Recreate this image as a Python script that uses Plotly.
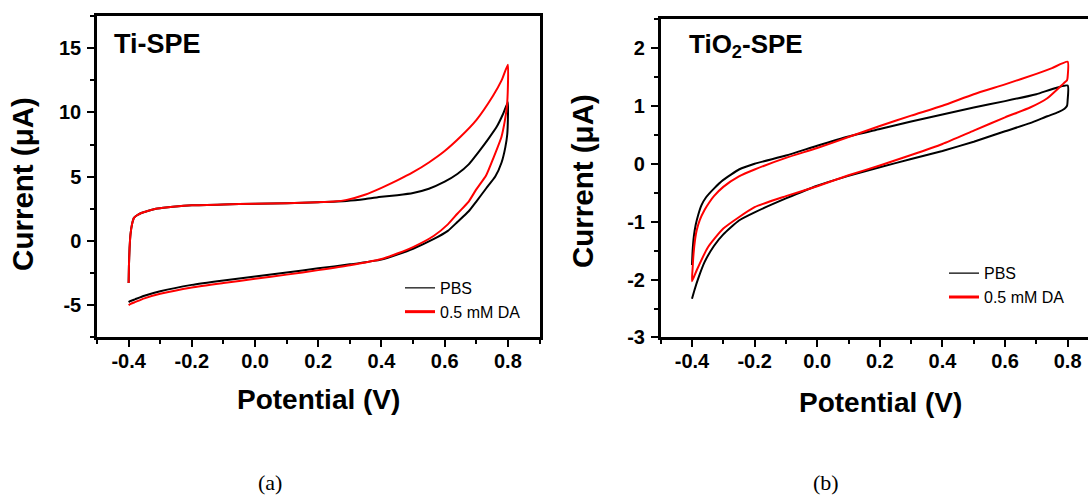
import plotly.graph_objects as go

# ---- Ti-SPE cyclic voltammograms (potential in V, current in uA) ----
ti_pbs_E = [-0.400, -0.399, -0.397, -0.394, -0.389, -0.383, -0.372, -0.360, -0.340, -0.317,
            -0.290, -0.260, -0.200, -0.100, 0.000, 0.100, 0.200, 0.290, 0.350, 0.400,
            0.450, 0.500, 0.550, 0.600, 0.640, 0.676, 0.710, 0.740, 0.765, 0.785, 0.800,
            0.800, 0.798, 0.792, 0.780, 0.760, 0.731, 0.700, 0.676, 0.640, 0.610, 0.566,
            0.500, 0.450, 0.400, 0.300, 0.200, 0.100, 0.000, -0.100, -0.200, -0.300,
            -0.350, -0.380, -0.395, -0.400]
ti_pbs_I = [-3.30, -2.00, -0.60, 0.50, 1.30, 1.78, 2.00, 2.16, 2.32, 2.47,
            2.56, 2.64, 2.76, 2.83, 2.87, 2.92, 3.00, 3.10, 3.25, 3.42,
            3.55, 3.72, 4.05, 4.60, 5.20, 5.95, 7.00, 8.00, 8.90, 9.90, 10.80,
            9.50, 8.30, 7.30, 6.10, 5.00, 4.07, 3.05, 2.29, 1.45, 0.76, 0.13,
            -0.63, -1.08, -1.48, -1.85, -2.16, -2.48, -2.79, -3.10, -3.45, -3.95,
            -4.30, -4.58, -4.72, -4.80]

ti_da_E = [-0.400, -0.399, -0.397, -0.394, -0.389, -0.383, -0.372, -0.360, -0.340, -0.317,
           -0.290, -0.260, -0.200, -0.100, 0.000, 0.100, 0.200, 0.250, 0.290, 0.350,
           0.400, 0.450, 0.500, 0.550, 0.600, 0.650, 0.700, 0.753, 0.780, 0.800,
           0.800, 0.797, 0.790, 0.780, 0.755, 0.731, 0.700, 0.676, 0.640, 0.610,
           0.566, 0.500, 0.450, 0.400, 0.300, 0.200, 0.100, 0.000, -0.100, -0.200,
           -0.300, -0.350, -0.380, -0.395, -0.400]
ti_da_I = [-3.30, -2.00, -0.60, 0.50, 1.30, 1.78, 2.00, 2.16, 2.32, 2.47,
           2.56, 2.64, 2.76, 2.83, 2.87, 2.92, 3.00, 3.05, 3.18, 3.60,
           4.12, 4.70, 5.34, 6.10, 6.99, 8.10, 9.40, 11.30, 12.50, 13.72,
           12.00, 10.50, 9.30, 8.13, 6.50, 5.08, 4.00, 3.05, 2.10, 1.27,
           0.38, -0.50, -1.00, -1.43, -1.92, -2.30, -2.65, -2.98, -3.30, -3.65,
           -4.15, -4.50, -4.80, -4.95, -5.03]

# ---- TiO2-SPE cyclic voltammograms ----
tio2_pbs_E = [-0.400, -0.398, -0.394, -0.388, -0.380, -0.370, -0.355, -0.330, -0.300, -0.250,
              -0.200, -0.100, 0.000, 0.100, 0.200, 0.300, 0.400, 0.500, 0.600, 0.700, 0.800,
              0.800, 0.798, 0.790, 0.770, 0.735, 0.680, 0.600, 0.500, 0.400, 0.300,
              0.200, 0.100, 0.000, -0.100, -0.200, -0.250, -0.300, -0.330, -0.360, -0.380,
              -0.392, -0.400]
tio2_pbs_I = [-1.75, -1.50, -1.25, -1.05, -0.88, -0.72, -0.58, -0.43, -0.28, -0.10,
              0.00, 0.14, 0.31, 0.47, 0.60, 0.73, 0.85, 0.97, 1.08, 1.20, 1.35,
              1.10, 1.00, 0.95, 0.89, 0.82, 0.70, 0.56, 0.38, 0.22, 0.08,
              -0.06, -0.21, -0.38, -0.60, -0.84, -0.98, -1.22, -1.42, -1.70, -1.98,
              -2.18, -2.33]

tio2_da_E = [-0.400, -0.398, -0.395, -0.390, -0.385, -0.375, -0.360, -0.345, -0.330, -0.300,
             -0.250, -0.200, -0.100, 0.000, 0.100, 0.200, 0.300, 0.400, 0.500, 0.600,
             0.700, 0.750, 0.800,
             0.800, 0.798, 0.790, 0.780, 0.735, 0.680, 0.600, 0.500, 0.400, 0.300,
             0.200, 0.100, 0.000, -0.100, -0.200, -0.300, -0.350, -0.385, -0.400]
tio2_da_I = [-2.03, -1.80, -1.55, -1.30, -1.15, -0.97, -0.80, -0.67, -0.56, -0.40,
             -0.22, -0.10, 0.10, 0.27, 0.46, 0.65, 0.83, 1.00, 1.20, 1.37,
             1.55, 1.65, 1.76,
             1.50, 1.44, 1.40, 1.35, 1.13, 0.97, 0.80, 0.57, 0.34, 0.15,
             -0.03, -0.20, -0.39, -0.56, -0.75, -1.12, -1.45, -1.84, -2.03]

# ---- axis ticks ----
x_tickvals = [-0.4, -0.2, 0.0, 0.2, 0.4, 0.6, 0.8]
x_ticktext = ["-0.4", "-0.2", "0.0", "0.2", "0.4", "0.6", "0.8"]
ti_y_tickvals = [-5, 0, 5, 10, 15]
ti_y_ticktext = ["-5", "0", "5", "10", "15"]
tio2_y_tickvals = [-3, -2, -1, 0, 1, 2]
tio2_y_ticktext = ["-3", "-2", "-1", "0", "1", "2"]

series_names = ["PBS", "0.5 mM DA"]
series_colors = ["#000000", "#ff0000"]

W, H = 1088, 504
FONT = "Liberation Sans, Arial, sans-serif"


def px_x(p):
    return p / W


def px_y(p):
    return 1 - p / H


def bold(labels):
    return ["<b>%s</b>" % t for t in labels]


fig = go.Figure()

panels = [
    ("x", "y", [(ti_pbs_E, ti_pbs_I), (ti_da_E, ti_da_I)], "legend"),
    ("x2", "y2", [(tio2_pbs_E, tio2_pbs_I), (tio2_da_E, tio2_da_I)], "legend2"),
]
for xa, ya, curves, leg in panels:
    for (E, I), name, color in zip(curves, series_names, series_colors):
        fig.add_trace(go.Scatter(x=E, y=I, mode="lines", xaxis=xa, yaxis=ya,
                                 line=dict(color=color, width=2, shape="spline", smoothing=0.5),
                                 showlegend=False, hoverinfo="skip"))
    # legend keys: thin black, thick red
    for name, color, w in zip(series_names, series_colors, [1.2, 3]):
        fig.add_trace(go.Scatter(x=[None], y=[None], mode="lines", xaxis=xa, yaxis=ya,
                                 name=name, legend=leg,
                                 line=dict(color=color, width=w)))

axis_common = dict(showline=True, linecolor="black", linewidth=2.5,
                   ticks="outside", ticklen=7, tickwidth=2, tickcolor="black",
                   showgrid=False, zeroline=False,
                   tickfont=dict(family=FONT, size=20, color="black"))
minor_common = dict(ticks="outside", ticklen=4, tickwidth=2, tickcolor="black")

fig.update_layout(
    width=W, height=H,
    margin=dict(l=0, r=0, t=0, b=0),
    paper_bgcolor="white", plot_bgcolor="white",
    xaxis=dict(domain=[px_x(97), px_x(539.5)], range=[-0.5, 0.9], anchor="y",
               tickvals=x_tickvals, ticktext=bold(x_ticktext), mirror=True,
               ticklabelstandoff=-3,
               minor=dict(dtick=0.1, tick0=-0.5, **minor_common), **axis_common),
    yaxis=dict(domain=[px_y(344.3), px_y(16.7)], range=[-7.5, 17.5], anchor="x",
               tickvals=ti_y_tickvals, ticktext=bold(ti_y_ticktext), mirror=True,
               ticklabelstandoff=2,
               minor=dict(dtick=2.5, tick0=0, **minor_common), **axis_common),
    xaxis2=dict(domain=[px_x(660.7), 1.0], range=[-0.5, 0.865], anchor="y2",
                tickvals=x_tickvals, ticktext=bold(x_ticktext), mirror=True,
                ticklabelstandoff=-3,
                minor=dict(dtick=0.1, tick0=-0.5, **minor_common), **axis_common),
    yaxis2=dict(domain=[px_y(345), px_y(19.3)], range=[-3, 2.5], anchor="x2",
                tickvals=tio2_y_tickvals, ticktext=bold(tio2_y_ticktext), mirror=False,
                ticklabelstandoff=2,
                minor=dict(dtick=0.5, tick0=0, **minor_common), **axis_common),
    legend=dict(x=px_x(400), y=px_y(277), xanchor="left", yanchor="top",
                bgcolor="rgba(0,0,0,0)", borderwidth=0, itemwidth=30, tracegroupgap=0,
                font=dict(family=FONT, size=16, color="black")),
    legend2=dict(x=px_x(944), y=px_y(262), xanchor="left", yanchor="top",
                 bgcolor="rgba(0,0,0,0)", borderwidth=0, itemwidth=30, tracegroupgap=0,
                 font=dict(family=FONT, size=16, color="black")),
    showlegend=True,
)

title_font = dict(family=FONT, size=28, color="black")
current_font = dict(family=FONT, size=29.5, color="black")
annotations = [
    # panel labels
    dict(text="<b>Ti-SPE</b>", x=px_x(112), y=px_y(45), xanchor="left", yanchor="middle",
         font=dict(family=FONT, size=27, color="black")),
    dict(text="<b>TiO<sub>2</sub>-SPE</b>", x=px_x(687), y=px_y(47), xanchor="left", yanchor="middle",
         font=dict(family=FONT, size=26, color="black")),
    # axis titles
    dict(text="<b>Current (\u03bcA)</b>", x=px_x(23), y=px_y(188), textangle=-90,
         xanchor="center", yanchor="middle", font=current_font),
    dict(text="<b>Potential (V)</b>", x=px_x(318), y=px_y(408), xanchor="center", yanchor="middle",
         font=title_font),
    dict(text="<b>Current (\u03bcA)</b>", x=px_x(583), y=px_y(185), textangle=-90,
         xanchor="center", yanchor="middle", font=current_font),
    dict(text="<b>Potential (V)</b>", x=px_x(880), y=px_y(411), xanchor="center", yanchor="middle",
         font=title_font),
    # sub-figure captions
    dict(text="(a)", x=px_x(270), y=px_y(493), xanchor="center", yanchor="middle",
         font=dict(family="Liberation Serif, serif", size=22, color="black")),
    dict(text="(b)", x=px_x(826), y=px_y(493), xanchor="center", yanchor="middle",
         font=dict(family="Liberation Serif, serif", size=22, color="black")),
]
for a in annotations:
    a.update(xref="paper", yref="paper", showarrow=False)
fig.update_layout(annotations=annotations)

fig.write_html("out.html")
